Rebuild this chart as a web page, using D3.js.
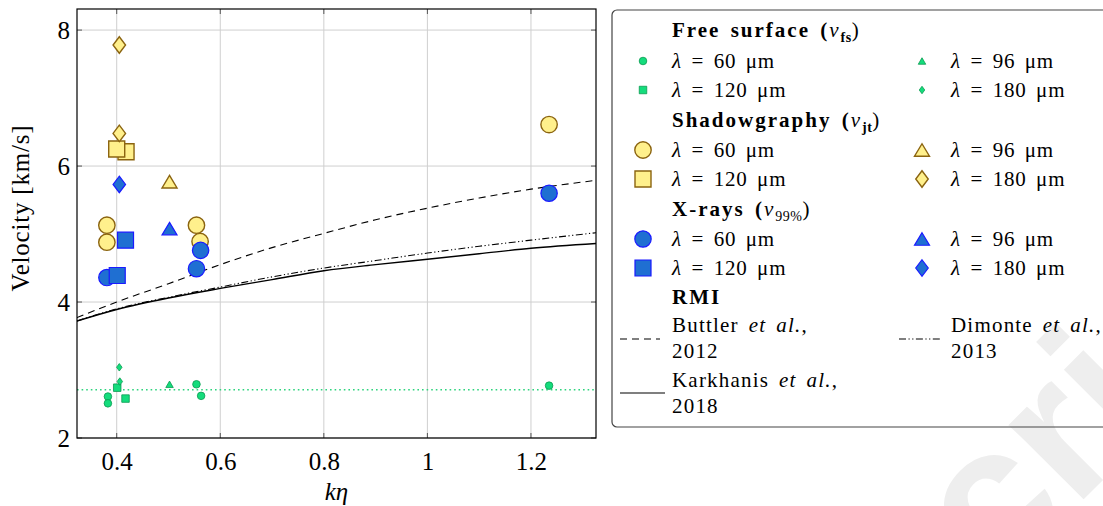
<!DOCTYPE html>
<html><head><meta charset="utf-8">
<script src="https://cdn.jsdelivr.net/npm/d3@7"></script>
<style>
body{margin:0;background:#fff}
svg{display:block}
text{font-family:"Liberation Serif","DejaVu Serif",serif;fill:#000}
</style>
</head><body>
<svg id="c" width="1103" height="506"></svg>
<script>
// ---------- data ----------
const xTickValues = [0.4, 0.6, 0.8, 1, 1.2];
const xTickLabels = ["0.4", "0.6", "0.8", "1", "1.2"];
const yTickValues = [2, 4, 6, 8];
const yTickLabels = ["2", "4", "6", "8"];

// Free surface (v_fs)
const fs60X = [0.383, 0.383, 0.554, 0.563, 1.235];
const fs60Y = [2.61, 2.51, 2.79, 2.62, 2.77];
const fs96X = [0.502];
const fs96Y = [2.79];
const fs120X = [0.401, 0.417];
const fs120Y = [2.74, 2.58];
const fs180X = [0.405, 0.406];
const fs180Y = [3.04, 2.83];
const fsMeanY = 2.71;

// Shadowgraphy (v_jt)
const sh60X = [0.381, 0.381, 0.561, 0.554, 1.235];
const sh60Y = [5.13, 4.88, 4.89, 5.13, 6.61];
const sh96X = [0.502];
const sh96Y = [5.77];
const sh120X = [0.418, 0.400];
const sh120Y = [6.21, 6.25];
const sh180X = [0.405, 0.405];
const sh180Y = [7.78, 6.48];

// X-rays (v_99%)
const xr60X = [0.381, 0.554, 0.562, 1.235];
const xr60Y = [4.36, 4.49, 4.76, 5.60];
const xr96X = [0.502];
const xr96Y = [5.08];
const xr120X = [0.401, 0.417];
const xr120Y = [4.39, 4.91];
const xr180X = [0.405];
const xr180Y = [5.73];

// RMI models
const rmiX = [0.323, 0.4, 0.5, 0.6, 0.7, 0.8, 0.9, 1.0, 1.1, 1.2, 1.326];
const buttlerY = [3.77, 4.00, 4.27, 4.55, 4.80, 5.01, 5.21, 5.38, 5.53, 5.66, 5.79];
const dimonteY = [3.72, 3.90, 4.07, 4.22, 4.37, 4.50, 4.61, 4.72, 4.82, 4.91, 5.02];
const karkhanisY = [3.72, 3.89, 4.06, 4.20, 4.33, 4.46, 4.55, 4.63, 4.71, 4.79, 4.86];

// ---------- setup ----------
const svg = d3.select("#c");
const L = 77, R = 596, T = 9, B = 438;
const x = d3.scaleLinear().domain([0.3233, 1.3256]).range([L, R]);
const y = d3.scaleLinear().domain([2, 8.31]).range([B, T]);

const C = {
  gFill: "#14dc7c", gStroke: "#0a9a50",
  yFill: "#fff08c", yStroke: "#8b6410",
  bFill: "#1f6fd2", bStroke: "#1a1aff"
};

// watermark
svg.append("text")
  .attr("transform", "translate(995,588) rotate(-45)")
  .style("font-family", "'Liberation Sans','DejaVu Sans',sans-serif")
  .style("font-weight", "bold")
  .style("font-size", "200px")
  .style("fill", "#eeeeee")
  .text("cri");

// marker paths
const shp = {
  circle: r => `M${r},0A${r},${r} 0 1,1 ${-r},0A${r},${r} 0 1,1 ${r},0Z`,
  square: s => `M${-s/2},${-s/2}h${s}v${s}h${-s}Z`,
  diamond: (w, h) => `M0,${-h/2}L${w/2},0L0,${h/2}L${-w/2},0Z`,
  triangle: (w, h) => `M0,${-h/2}L${w/2},${h/2}L${-w/2},${h/2}Z`
};
const big = {
  circle: shp.circle(8.2), square: shp.square(16), diamond: shp.diamond(12.5, 16.5), triangle: shp.triangle(15, 12.5)
};
const small = {
  circle: shp.circle(3.8), square: shp.square(7.5), diamond: shp.diamond(5.5, 7.5), triangle: shp.triangle(7.5, 6.5)
};

// grid
const grid = svg.append("g");
xTickValues.forEach(v => grid.append("line").attr("x1", x(v)).attr("x2", x(v)).attr("y1", T).attr("y2", B)
  .attr("stroke", "#cfcfcf").attr("stroke-width", 1));
yTickValues.forEach(v => grid.append("line").attr("x1", L).attr("x2", R).attr("y1", y(v)).attr("y2", y(v))
  .attr("stroke", "#cfcfcf").attr("stroke-width", 1));

// inner ticks
const tk = svg.append("g").attr("stroke", "#555").attr("stroke-width", 1);
xTickValues.forEach(v => {
  tk.append("line").attr("x1", x(v)).attr("x2", x(v)).attr("y1", B).attr("y2", B - 5);
  tk.append("line").attr("x1", x(v)).attr("x2", x(v)).attr("y1", T).attr("y2", T + 5);
});
yTickValues.forEach(v => {
  tk.append("line").attr("x1", L).attr("x2", L + 5).attr("y1", y(v)).attr("y2", y(v));
  tk.append("line").attr("x1", R).attr("x2", R - 5).attr("y1", y(v)).attr("y2", y(v));
});

// axes labels via d3 axes
const xAxis = d3.axisBottom(x).tickValues(xTickValues).tickSize(0).tickPadding(14)
  .tickFormat((d, i) => xTickLabels[i]);
const gx = svg.append("g").attr("transform", `translate(0,${B})`).call(xAxis);
gx.select(".domain").remove();
gx.selectAll("text").style("font-family", "'Liberation Serif','DejaVu Serif',serif").style("font-size", "25px").attr("fill", "#000");

const yAxis = d3.axisLeft(y).tickValues(yTickValues).tickSize(0).tickPadding(7)
  .tickFormat((d, i) => yTickLabels[i]);
const gy = svg.append("g").attr("transform", `translate(${L},0)`).call(yAxis);
gy.select(".domain").remove();
gy.selectAll("text").style("font-family", "'Liberation Serif','DejaVu Serif',serif").style("font-size", "25px").attr("fill", "#000");

svg.append("text").attr("x", (L + R) / 2).attr("y", 500).attr("text-anchor", "middle")
  .style("font-size", "25px").style("font-style", "italic").text("kη");
svg.append("text").attr("transform", `translate(29,208) rotate(-90)`).attr("text-anchor", "middle")
  .style("font-size", "25px").style("letter-spacing", "0.8px").text("Velocity [km/s]");

// clip
svg.append("clipPath").attr("id", "clip").append("rect").attr("x", L).attr("y", T).attr("width", R - L).attr("height", B - T);
const plot = svg.append("g").attr("clip-path", "url(#clip)");

// RMI lines
const line = d3.line().x((d, i) => x(rmiX[i])).y(d => y(d)).curve(d3.curveMonotoneX);
plot.append("path").attr("d", line(buttlerY)).attr("fill", "none").attr("stroke", "#000").attr("stroke-width", 1.1).attr("stroke-dasharray", "7,5");
plot.append("path").attr("d", line(dimonteY)).attr("fill", "none").attr("stroke", "#000").attr("stroke-width", 1.1).attr("stroke-dasharray", "7,2.5,1.2,2.5,1.2,2.5");
plot.append("path").attr("d", line(karkhanisY)).attr("fill", "none").attr("stroke", "#000").attr("stroke-width", 1.4);

// green mean
plot.append("line").attr("x1", L).attr("x2", R).attr("y1", y(fsMeanY)).attr("y2", y(fsMeanY))
  .attr("stroke", "#2ed47e").attr("stroke-width", 1.6).attr("stroke-dasharray", "1.6,3");

function pts(xs, ys, d, fill, stroke, sw) {
  xs.forEach((xv, i) => {
    plot.append("path").attr("d", d).attr("transform", `translate(${x(xv)},${y(ys[i])})`)
      .attr("fill", fill).attr("stroke", stroke).attr("stroke-width", sw);
  });
}
pts(fs60X, fs60Y, small.circle, C.gFill, C.gStroke, 0.8);
pts(fs96X, fs96Y, small.triangle, C.gFill, C.gStroke, 0.8);
pts(fs120X, fs120Y, small.square, C.gFill, C.gStroke, 0.8);
pts(fs180X, fs180Y, small.diamond, C.gFill, C.gStroke, 0.8);

pts(sh60X, sh60Y, big.circle, C.yFill, C.yStroke, 1.4);
pts(sh96X, sh96Y, big.triangle, C.yFill, C.yStroke, 1.4);
pts(sh120X, sh120Y, big.square, C.yFill, C.yStroke, 1.4);
pts(sh180X, sh180Y, big.diamond, C.yFill, C.yStroke, 1.4);

pts(xr60X, xr60Y, big.circle, C.bFill, C.bStroke, 1.2);
pts(xr96X, xr96Y, big.triangle, C.bFill, C.bStroke, 1.2);
pts(xr120X, xr120Y, big.square, C.bFill, C.bStroke, 1.2);
pts(xr180X, xr180Y, big.diamond, C.bFill, C.bStroke, 1.2);

// frame
svg.append("rect").attr("x", L).attr("y", T).attr("width", R - L).attr("height", B - T)
  .attr("fill", "none").attr("stroke", "#000").attr("stroke-width", 1.2);

// ---------- legend ----------
const lg = svg.append("g");
lg.append("rect").attr("x", 612).attr("y", 10).attr("width", 520).attr("height", 417).attr("rx", 5)
  .attr("fill", "none").attr("stroke", "#444").attr("stroke-width", 1.2);

const LF = 21;
const mx1 = 643, tx1 = 672, mx2 = 922, tx2 = 951;
function title(yc, main, sub, subBold) {
  const t = lg.append("text").attr("x", tx1).attr("y", yc + 7).style("font-size", LF + "px").style("font-weight", "bold")
    .style("letter-spacing", "2px").style("word-spacing", "3px");
  t.append("tspan").text(main);
  if (sub !== null) {
    t.append("tspan").text(" (");
    t.append("tspan").style("font-style", "italic").style("font-weight", "normal").text("v");
    t.append("tspan").attr("dy", 5).style("font-size", "14px").style("letter-spacing", "0.5px").style("font-weight", subBold ? "bold" : "normal").text(sub);
    t.append("tspan").attr("dy", -5).style("font-weight", "normal").text(")");
  }
}
function entry(mx, tx, yc, d, fill, stroke, sw, label) {
  lg.append("path").attr("d", d).attr("transform", `translate(${mx},${yc})`).attr("fill", fill).attr("stroke", stroke).attr("stroke-width", sw);
  const t = lg.append("text").attr("x", tx).attr("y", yc + 7).style("font-size", LF + "px")
    .style("letter-spacing", "0.8px").style("word-spacing", "3.5px");
  t.append("tspan").style("font-style", "italic").text("λ");
  t.append("tspan").text(" = " + label + " μm");
}
title(30, "Free surface", "fs", true);
entry(mx1, tx1, 61, small.circle, C.gFill, C.gStroke, 0.8, "60");
entry(mx2, tx2, 61, small.triangle, C.gFill, C.gStroke, 0.8, "96");
entry(mx1, tx1, 90, small.square, C.gFill, C.gStroke, 0.8, "120");
entry(mx2, tx2, 90, small.diamond, C.gFill, C.gStroke, 0.8, "180");
title(120, "Shadowgraphy", "jt", true);
entry(mx1, tx1, 150, big.circle, C.yFill, C.yStroke, 1.4, "60");
entry(mx2, tx2, 150, big.triangle, C.yFill, C.yStroke, 1.4, "96");
entry(mx1, tx1, 179, big.square, C.yFill, C.yStroke, 1.4, "120");
entry(mx2, tx2, 179, big.diamond, C.yFill, C.yStroke, 1.4, "180");
title(209, "X-rays", "99%", false);
entry(mx1, tx1, 239, big.circle, C.bFill, C.bStroke, 1.2, "60");
entry(mx2, tx2, 239, big.triangle, C.bFill, C.bStroke, 1.2, "96");
entry(mx1, tx1, 268, big.square, C.bFill, C.bStroke, 1.2, "120");
entry(mx2, tx2, 268, big.diamond, C.bFill, C.bStroke, 1.2, "180");
title(297, "RMI", null);

function lineEntry(x1, x2, ly, tx, ty, name, year, dash, sw) {
  lg.append("line").attr("x1", x1).attr("x2", x2).attr("y1", ly).attr("y2", ly).attr("stroke", "#000").attr("stroke-width", sw)
    .attr("stroke-dasharray", dash);
  const t = lg.append("text").attr("x", tx).attr("y", ty + 7).style("font-size", LF + "px")
    .style("letter-spacing", "1.2px").style("word-spacing", "3.5px");
  t.append("tspan").text(name + " ");
  t.append("tspan").style("font-style", "italic").text("et al.");
  t.append("tspan").text(",");
  lg.append("text").attr("x", tx).attr("y", ty + 33).style("font-size", LF + "px").style("letter-spacing", "1.2px").text(year);
}
lineEntry(620, 660, 339, tx1, 325, "Buttler", "2012", "7,5", 1.1);
lineEntry(899, 940, 339, tx2, 325, "Dimonte", "2013", "7,2.5,1.2,2.5,1.2,2.5", 1.1);
lineEntry(620, 665, 393, tx1, 380, "Karkhanis", "2018", null, 1.2);
</script>
</body></html>
